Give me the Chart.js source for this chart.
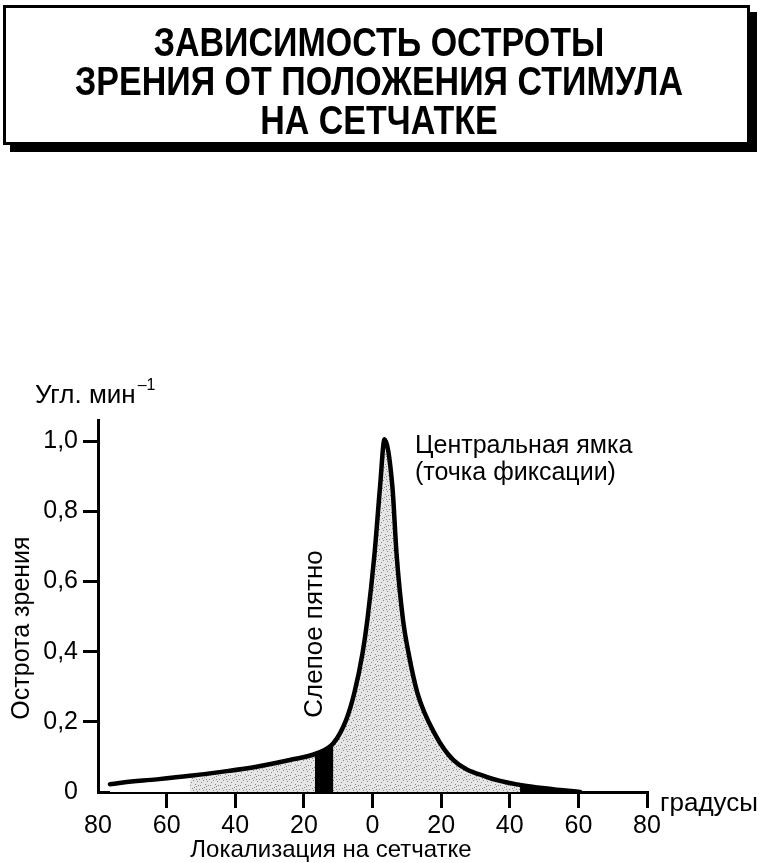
<!DOCTYPE html>
<html lang="ru">
<head>
<meta charset="utf-8">
<title>Зависимость остроты зрения от положения стимула на сетчатке</title>
<script src="https://cdn.jsdelivr.net/npm/chart.js@4.4.1/dist/chart.umd.min.js"></script>
<style>
  html, body { margin: 0; padding: 0; background: #fff; }
  canvas { display: block; }
</style>
</head>
<body>
<canvas id="acuityChart" width="768" height="863"></canvas>
<script>
const titleLines = ['ЗАВИСИМОСТЬ ОСТРОТЫ', 'ЗРЕНИЯ ОТ ПОЛОЖЕНИЯ СТИМУЛА', 'НА СЕТЧАТКЕ'];

// градусы от точки фиксации: слева носовая часть сетчатки, справа височная
const eccentricity = [-76.5, -72.7, -62.9, -53.2, -43.5, -33.8, -24.1, -16.3, -11.4, -7.7, -5.3, -2.9, -1.5,
  0.6, 2.2, 3.5, 5.8, 7.0, 8.9, 10.5, 13.1, 18.2, 23.6, 33.2, 43.0, 52.6, 60.5];
const acuity = [0.022, 0.027, 0.036, 0.046, 0.058, 0.072, 0.091, 0.110, 0.139, 0.205, 0.282, 0.396, 0.49,
  0.68, 0.87, 1.005, 0.87, 0.68, 0.49, 0.396, 0.282, 0.165, 0.091, 0.043, 0.02, 0.008, 0];

// слепое пятно
const blindSpotX = [-16.8, -11.4];
const blindSpotY = [0.108, 0.139];

const xTicks = [-80, -60, -40, -20, 0, 20, 40, 60, 80];
const yTicks = [0, 0.2, 0.4, 0.6, 0.8, 1.0];
const yTickLabels = ['0', '0,2', '0,4', '0,6', '0,8', '1,0'];

const FONT = '"Liberation Sans", Arial, sans-serif';
Chart.defaults.font.family = FONT;
Chart.defaults.font.size = 25;
Chart.defaults.color = '#000';

const curve = eccentricity.map((x, i) => ({ x, y: acuity[i] }));

function stipple() {
  const c = document.createElement('canvas');
  c.width = 10;
  c.height = 10;
  const g = c.getContext('2d');
  g.fillStyle = '#e6e6e6';
  g.fillRect(0, 0, 10, 10);
  const dots = [[1, 2], [4, 7], [7, 1], [8, 5], [2, 8], [5, 4], [0, 5], [9, 9], [3, 0], [6, 9], [6, 6]];
  g.fillStyle = '#888';
  dots.forEach(([x, y]) => g.fillRect(x, y, 1, 1));
  return g.createPattern(c, 'repeat');
}

const hideAt = v => ctx => (ctx.tick && ctx.tick.value === v ? 'rgba(0,0,0,0)' : '#000');

const annotations = {
  id: 'annotations',
  beforeDraw(chart) {
    const ctx = chart.ctx;
    ctx.save();
    ctx.fillStyle = '#fff';
    ctx.fillRect(0, 0, chart.width, chart.height);
    ctx.restore();
  },
  afterDraw(chart) {
    const ctx = chart.ctx;
    ctx.save();

    // рамка заголовка с тенью
    ctx.fillStyle = '#000';
    ctx.fillRect(10, 12, 747, 140);
    ctx.fillStyle = '#fff';
    ctx.fillRect(3, 5, 747, 140);
    ctx.lineWidth = 3;
    ctx.strokeStyle = '#000';
    ctx.strokeRect(4.5, 6.5, 744, 137);

    ctx.fillStyle = '#000';
    ctx.font = 'bold 41px "Liberation Sans Narrow", ' + FONT;
    ctx.textAlign = 'center';
    ctx.textBaseline = 'alphabetic';
    const sx = 608 / ctx.measureText(titleLines[1]).width;
    [56, 95, 134].forEach((y, i) => {
      ctx.save();
      ctx.translate(379, y);
      ctx.scale(sx, 1);
      ctx.fillText(titleLines[i], 0, 0);
      ctx.restore();
    });

    // подписи осей
    ctx.font = '26px ' + FONT;
    ctx.textAlign = 'left';
    ctx.fillText('Угл. мин', 35, 403);
    const w = ctx.measureText('Угл. мин').width;
    ctx.font = '16px ' + FONT;
    ctx.fillText('–1', 35 + w + 2, 390);

    ctx.font = '26px ' + FONT;
    ctx.fillText('градусы', 660, 811);
    ctx.font = '24px ' + FONT;
    ctx.textAlign = 'center';
    ctx.fillText('Локализация на сетчатке', 331, 857);

    ctx.font = '25px ' + FONT;
    ctx.textAlign = 'left';
    ctx.fillText('Центральная ямка', 415, 453);
    ctx.fillText('(точка фиксации)', 415, 480);

    ctx.textAlign = 'center';
    ctx.textBaseline = 'middle';
    ctx.save();
    ctx.translate(22, 628);
    ctx.rotate(-Math.PI / 2);
    ctx.fillText('Острота зрения', 0, 0);
    ctx.restore();

    ctx.font = '26px ' + FONT;
    ctx.save();
    ctx.translate(315, 634);
    ctx.rotate(-Math.PI / 2);
    ctx.fillText('Слепое пятно', 0, 0);
    ctx.restore();

    ctx.restore();
  }
};

const areaOnly = {
  borderWidth: 0,
  borderColor: 'rgba(0,0,0,0)',
  fill: 'origin',
  pointRadius: 0,
  cubicInterpolationMode: 'monotone'
};

new Chart(document.getElementById('acuityChart'), {
  type: 'line',
  data: {
    datasets: [
      {
        label: 'Острота зрения',
        data: curve,
        borderColor: '#000',
        borderWidth: 4.5,
        backgroundColor: stipple(),
        fill: 'origin',
        cubicInterpolationMode: 'monotone',
        borderCapStyle: 'round',
        borderJoinStyle: 'round',
        pointRadius: 0,
        order: 3
      },
      // почти пустой край слева и зачернённый хвост справа, как в оригинале
      Object.assign({ label: 'край', data: curve.filter(p => p.x <= -53.2), backgroundColor: '#fff', order: 2 }, areaOnly),
      Object.assign({ label: 'хвост', data: curve.filter(p => p.x >= 43), backgroundColor: '#000', order: 1 }, areaOnly),
      Object.assign({
        label: 'Слепое пятно',
        data: blindSpotX.map((x, i) => ({ x, y: blindSpotY[i] })),
        backgroundColor: '#000',
        order: 0
      }, areaOnly)
    ]
  },
  options: {
    responsive: false,
    animation: false,
    devicePixelRatio: 1,
    layout: { padding: { left: 0, top: 420, right: 121, bottom: 0 } },
    plugins: {
      legend: { display: false },
      tooltip: { enabled: false },
      filler: { drawTime: 'beforeDatasetsDraw' }
    },
    scales: {
      x: {
        type: 'linear',
        min: -80,
        max: 80,
        afterBuildTicks: s => { s.ticks = xTicks.map(v => ({ value: v })); },
        afterFit: s => { s.height = 71; s.paddingLeft = 0; s.paddingRight = 0; },
        ticks: {
          autoSkip: false,
          maxRotation: 0,
          padding: 3,
          callback: v => String(Math.abs(v))
        },
        grid: {
          drawOnChartArea: false,
          tickLength: 16,
          lineWidth: 3,
          color: hideAt(-80),
          tickColor: hideAt(-80)
        },
        border: { display: true, color: '#000', width: 3 }
      },
      y: {
        min: 0,
        max: 1.06,
        afterBuildTicks: s => { s.ticks = yTicks.map(v => ({ value: v })); },
        afterFit: s => { s.width = 98; s.paddingTop = 0; s.paddingBottom = 0; },
        ticks: {
          padding: 5,
          callback: (v, i) => yTickLabels[i]
        },
        grid: {
          drawOnChartArea: false,
          tickLength: 15,
          lineWidth: 3,
          color: hideAt(0),
          tickColor: hideAt(0)
        },
        border: { display: true, color: '#000', width: 3 }
      }
    }
  },
  plugins: [annotations]
});
</script>
</body>
</html>
